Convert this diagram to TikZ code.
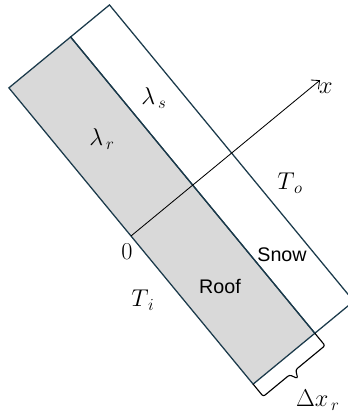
\documentclass[tikz,border=0pt]{standalone}
\usepackage{fontspec}
\newfontfamily\labelfont{Liberation Sans}
\usetikzlibrary{arrows.meta}
\definecolor{layerline}{HTML}{1B3A4B}
\definecolor{roofgray}{HTML}{D9D9D9}

\tikzset{
    symlabel/.style={font=\fontsize{18}{20}\selectfont, inner sep=1pt},
    wordlabel/.style={font=\labelfont\fontsize{14}{16}\selectfont, inner sep=1pt}
}

\begin{document}
\begin{tikzpicture}
        \useasboundingbox (0,0) rectangle (8.7,10.3);
        \clip (0,0) rectangle (8.7,10.3);

        % Tilted roof and snow layers
        \begin{scope}[shift={(3.275,4.4)}, rotate=39.5]
            \draw[layerline, line width=0.9pt, fill=roofgray] (0,-4.8) rectangle (2.0,4.8);
            \draw[layerline, line width=0.9pt] (2.0,-4.8) rectangle (3.26,4.8);

            % x axis through the layers
            \coordinate (origin) at (0,0);
            \coordinate (xtip) at (6.125,0);
            \draw[-{Straight Barb[length=1.6mm, width=3mm]}, line width=0.6pt] (origin) -- (xtip);

            % Bracket for the roof thickness
            \coordinate (braceA) at (0,-4.8);
            \coordinate (braceB) at (2.0,-4.8);
            \draw[line width=0.8pt, rounded corners=1.5pt] (braceA) -- (0,-5.2) -- (0.85,-5.2)
                -- (0.95,-5.4) -- (1.05,-5.2) -- (2.0,-5.2) -- (braceB);
        \end{scope}

        % Labels
        \node[symlabel] (lams) at (3.85, 7.85) {$\lambda_{\,s}$};
        \node[symlabel] (lamr) at (2.55, 6.82) {$\lambda_{\,r}$};
        \node[symlabel] (xlab) at (8.15, 8.1) {$x$};
        \node[symlabel] (To) at (7.25, 5.72) {$T_{\,o}$};
        \node[symlabel] (zero) at (3.175, 4.0) {$0$};
        \node[wordlabel] (roof) at (5.5, 3.15) {Roof};
        \node[wordlabel] (snow) at (7.05, 3.925) {Snow};
        \node[symlabel] (Ti) at (3.575, 2.8) {$T_{\,i}$};
        \node[symlabel] (dxr) at (7.95, 0.3) {$\Delta x_{\,r}$};
    \end{tikzpicture}
\end{document}
